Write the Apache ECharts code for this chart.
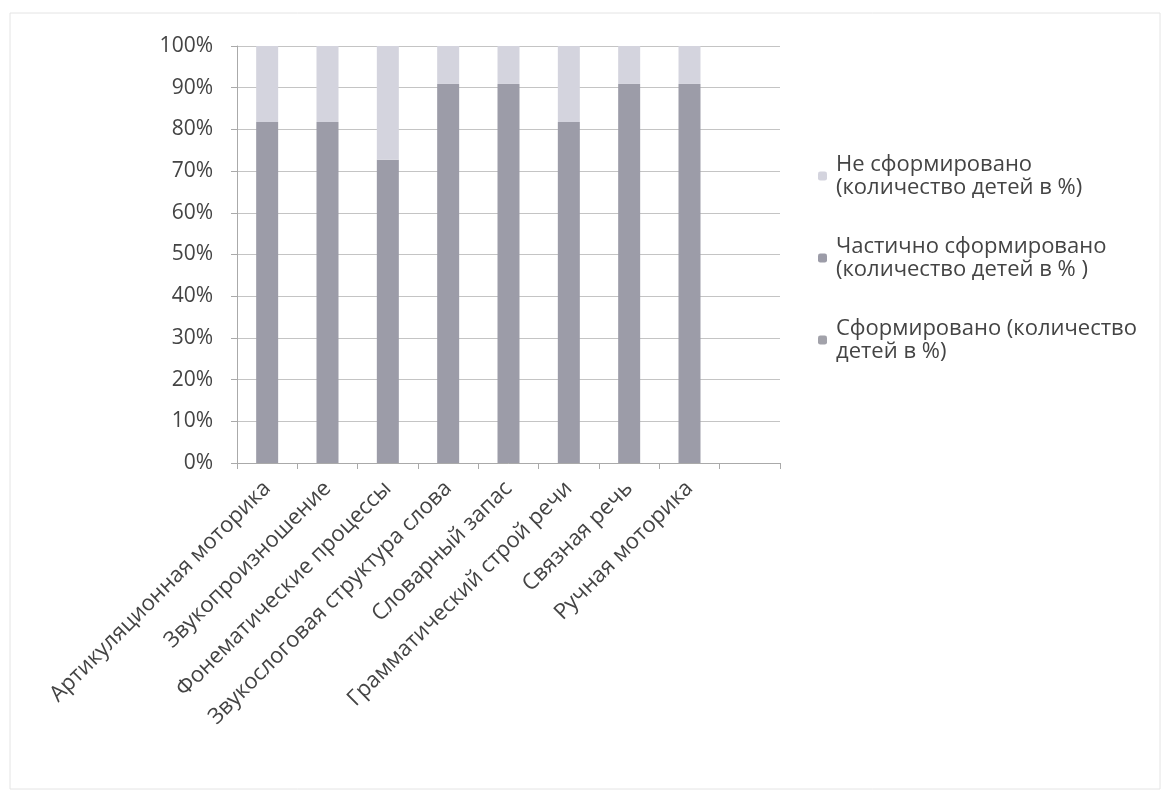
<!DOCTYPE html>
<html><head><meta charset="utf-8">
<script src="https://cdn.jsdelivr.net/npm/echarts@6/dist/echarts.min.js"></script>
<style>html,body{margin:0;padding:0;background:#fff}#c{width:1170px;height:794px}</style>
</head><body><div id="c"></div>
<script>
const categories = ['Артикуляционная моторика','Звукопроизношение','Фонематические процессы','Звукослоговая структура слова','Словарный запас','Грамматический строй речи','Связная речь','Ручная моторика',''];
const formed = [0,0,0,0,0,0,0,0,null];
const partly = [81.8,81.8,72.7,90.9,90.9,81.8,90.9,90.9,null];
const notFormed = [18.2,18.2,27.3,9.1,9.1,18.2,9.1,9.1,null];
const yTicks = [0,10,20,30,40,50,60,70,80,90,100];
const names = ['Сформировано (количество детей в %)','Частично сформировано (количество детей в % )','Не сформировано (количество детей в %)'];
const legendText = {
  [names[0]]: 'Сформировано (количество\nдетей в %)',
  [names[1]]: 'Частично сформировано\n(количество детей в % )',
  [names[2]]: 'Не сформировано\n(количество детей в %)'
};
const font = 'Open Sans';
const chart = echarts.init(document.getElementById('c'));
chart.setOption({
  animation:false,
  backgroundColor:'#fff',
  graphic:[{type:'rect',shape:{x:10,y:13,width:1150,height:776},style:{fill:'none',stroke:'#e4e4e4',lineWidth:1},silent:true,z:-1}],
  grid:{left:237,right:390,top:46,bottom:331},
  legend:{
    orient:'vertical', left:813, top:148, itemWidth:9, itemHeight:9, itemGap:36,
    data:[names[2],names[1],names[0]],
    formatter:n=>legendText[n],
    textStyle:{fontFamily:font,fontSize:22,color:'#444',lineHeight:23,padding:[0,0,0,4]}
  },
  xAxis:{
    type:'category', data:categories,
    axisLine:{lineStyle:{color:'#aaa'}},
    axisTick:{show:true,alignWithLabel:false,length:6,lineStyle:{color:'#aaa'}},
    axisLabel:{rotate:45,interval:0,fontFamily:font,fontSize:22,color:'#444',margin:22}
  },
  yAxis:{
    type:'value', min:yTicks[0], max:yTicks[yTicks.length-1], interval:10,
    axisLine:{show:true,lineStyle:{color:'#aaa'}},
    axisTick:{show:true,length:6,lineStyle:{color:'#aaa'}},
    splitLine:{lineStyle:{color:'#c4c4c4'}},
    axisLabel:{formatter:'{value}%',fontFamily:font,fontSize:21,color:'#444',margin:24}
  },
  series:[
    {name:names[0],type:'bar',stack:'s',data:formed,barWidth:22,itemStyle:{color:'#a2a2aa'}},
    {name:names[1],type:'bar',stack:'s',data:partly,barWidth:22,itemStyle:{color:'#9c9ca8'}},
    {name:names[2],type:'bar',stack:'s',data:notFormed,barWidth:22,itemStyle:{color:'#d4d4de'}}
  ]
});
</script></body></html>
